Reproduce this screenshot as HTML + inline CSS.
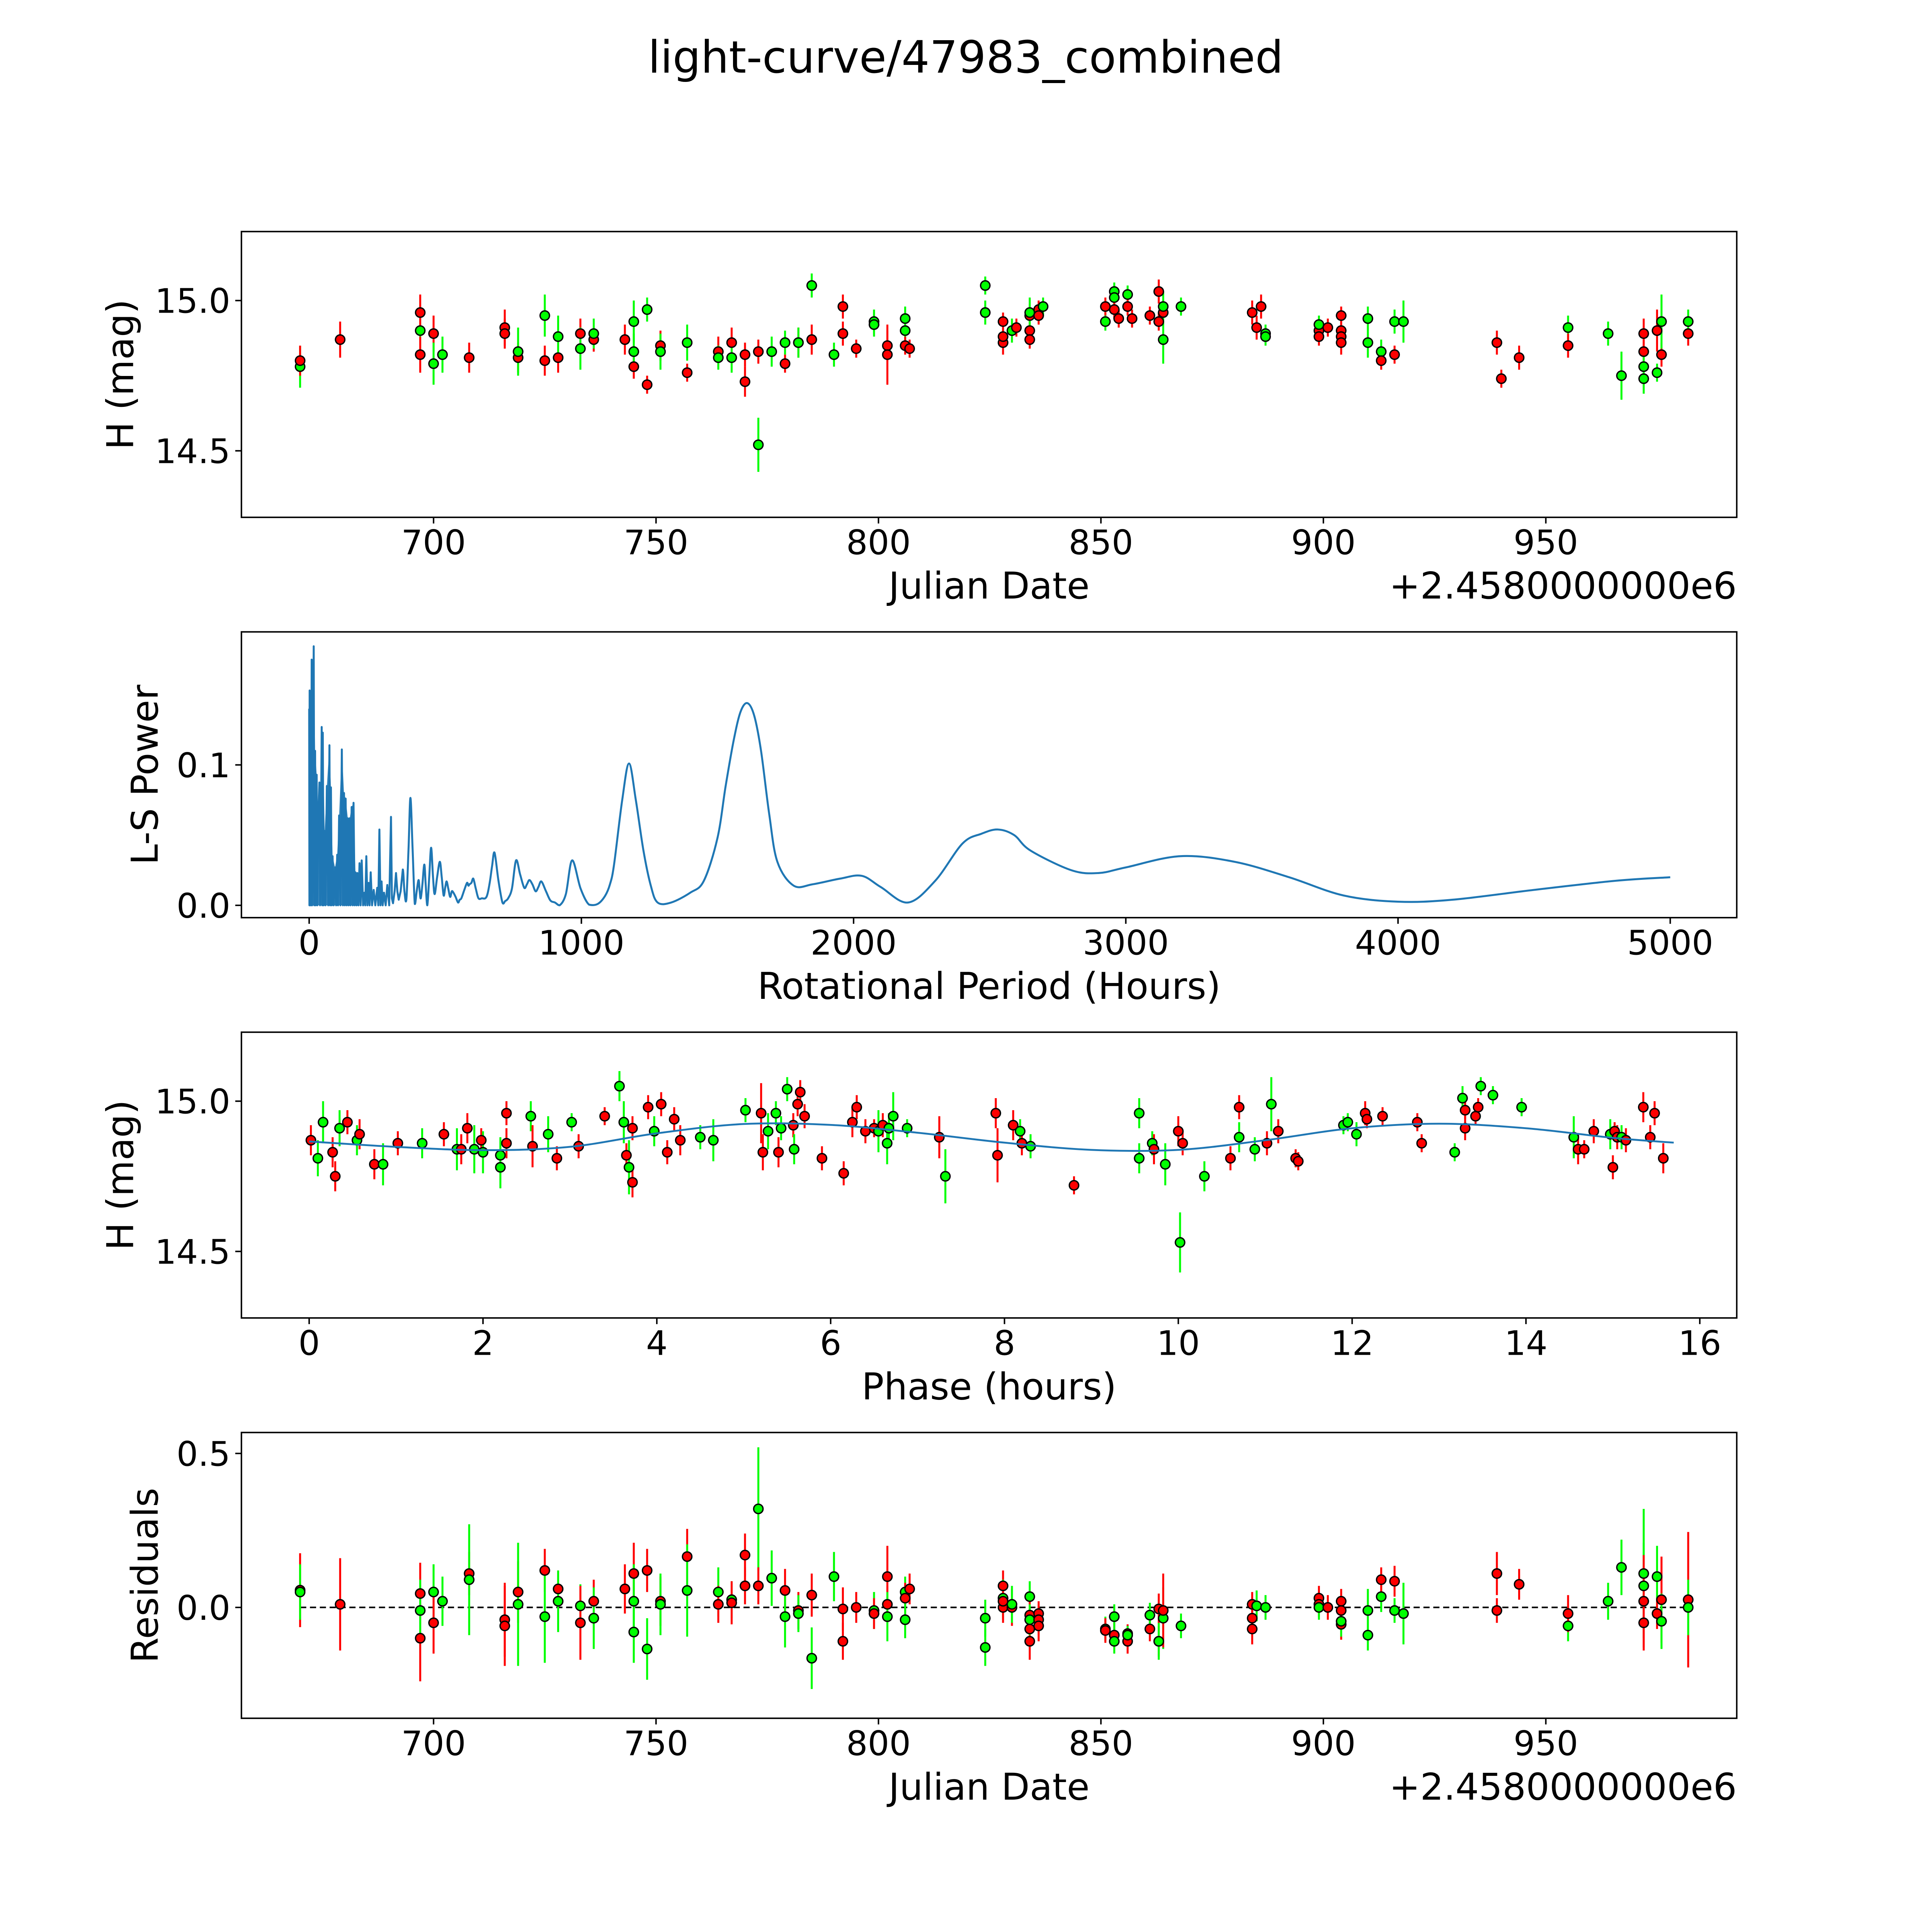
<!DOCTYPE html>
<html><head><meta charset="utf-8"><style>
html,body{margin:0;padding:0;background:#fff;overflow:hidden;width:5400px;height:5400px}
svg{display:block}
text{font-family:"DejaVu Sans","Liberation Sans",sans-serif;fill:#000}
</style></head><body>
<svg id="fig" width="5400" height="5400" viewBox="0 0 1694 1694" preserveAspectRatio="xMinYMin meet" xmlns="http://www.w3.org/2000/svg">
<rect x="0" y="0" width="1694" height="1694" fill="#fff"/>
<text x="784" y="59" font-size="36" text-anchor="middle">light-curve/47983_combined</text>
</svg>
<script>
// ---- Panel 1: light curve (Julian Date) ----
const lcJD=[670,670,679,697,697,697,700,700,702,708,716,716,719,719,725,725,728,728,733,733,736,736,743,745,745,745,748,748,751,751,757,757,764,764,767,767,770,770,773,773,776,779,779,782,782,785,785,790,792,792,795,799,799,802,802,806,806,806,807,824,824,828,828,828,830,831,834,834,834,834,836,836,837,851,851,853,853,853,854,856,856,857,861,863,863,864,864,864,868,884,885,886,887,887,899,899,899,901,904,904,904,904,910,910,913,913,916,916,918,939,940,944,955,955,964,967,972,972,972,972,975,975,976,976,982,982];
const lcMag=[14.78,14.80,14.87,14.90,14.96,14.82,14.89,14.79,14.82,14.81,14.91,14.89,14.81,14.83,14.95,14.80,14.81,14.88,14.89,14.84,14.87,14.89,14.87,14.93,14.78,14.83,14.97,14.72,14.85,14.83,14.86,14.76,14.83,14.81,14.86,14.81,14.73,14.82,14.52,14.83,14.83,14.86,14.79,14.86,14.86,15.05,14.87,14.82,14.98,14.89,14.84,14.93,14.92,14.85,14.82,14.94,14.90,14.85,14.84,15.05,14.96,14.93,14.86,14.88,14.90,14.91,14.95,14.90,14.87,14.96,14.97,14.95,14.98,14.93,14.98,15.03,15.01,14.97,14.94,15.02,14.98,14.94,14.95,15.03,14.93,14.96,14.98,14.87,14.98,14.96,14.91,14.98,14.89,14.88,14.90,14.88,14.92,14.91,14.95,14.90,14.88,14.86,14.94,14.86,14.83,14.80,14.82,14.93,14.93,14.86,14.74,14.81,14.91,14.85,14.89,14.75,14.83,14.78,14.74,14.89,14.76,14.90,14.82,14.93,14.89,14.93];
const lcErr=[0.07,0.05,0.06,0.06,0.06,0.06,0.06,0.07,0.06,0.05,0.06,0.05,0.05,0.08,0.07,0.05,0.05,0.07,0.05,0.07,0.04,0.05,0.05,0.07,0.04,0.06,0.04,0.03,0.05,0.06,0.06,0.03,0.05,0.04,0.05,0.05,0.05,0.04,0.09,0.04,0.05,0.04,0.03,0.05,0.05,0.04,0.05,0.04,0.04,0.04,0.03,0.04,0.04,0.05,0.10,0.04,0.04,0.03,0.03,0.03,0.04,0.03,0.04,0.03,0.04,0.03,0.04,0.04,0.03,0.05,0.03,0.03,0.03,0.03,0.03,0.03,0.03,0.03,0.03,0.03,0.03,0.03,0.03,0.04,0.03,0.04,0.05,0.08,0.03,0.04,0.04,0.04,0.03,0.03,0.03,0.03,0.03,0.03,0.03,0.03,0.03,0.04,0.04,0.05,0.04,0.03,0.03,0.04,0.07,0.04,0.03,0.04,0.04,0.04,0.04,0.08,0.05,0.04,0.05,0.05,0.03,0.07,0.04,0.09,0.04,0.04];
const lcBand=['g','r','r','g','r','r','r','g','g','r','r','r','r','g','g','r','r','g','r','g','r','g','r','g','r','g','g','r','r','g','g','r','r','g','r','g','r','r','g','r','g','g','r','r','g','g','r','g','r','r','r','g','g','r','r','g','g','r','r','g','g','r','r','r','g','r','r','r','r','g','r','r','g','g','r','g','g','r','r','g','r','r','r','r','r','r','g','g','g','r','r','r','g','g','r','r','g','r','r','r','r','r','g','g','g','r','r','g','g','r','r','r','g','r','g','g','r','g','g','r','g','r','r','g','r','g'];
const jdTicks=[700,750,800,850,900,950];

// ---- Panel 2: Lomb-Scargle periodogram ----
const lsPeriod=[0,1,1.7,3,5,7,9.2,11,14,16.7,19,21.8,24,27.6,30,33,37.7,40,43,46,48,50,53,57,60,65,70,74.5,77,80,83,86,90,95,99,103,106,110,115,120,124,128,131,134,138,142,145,149,152,156,160,163,167,170,174,177,181,185,189,193,198,203,206,210,214,218,222,226,231,237,243,250,254,258,262,266,270,275,281,287,294,300.6,304,308,314,319,324,329,336,344,350,357,365,372,380,388,395,402,406,410,416,423,428,434,441,448,455,461,470,480,487,494,500,505,511,518,524,530,538,547,553,559,570,580,585,589,596,603,612,622,635,647,655,664,672,681,695,710,720,731,745,760,775,790,800,809,820,832,842,853,870,886,903,920,943,966,997,1028,1060,1087,1105,1120,1150,1175,1200,1228,1255,1280,1330,1400,1450,1500,1530,1560,1585,1610,1635,1660,1690,1720,1780,1850,1950,2030,2100,2200,2300,2400,2470,2530,2590,2650,2800,2900,3000,3200,3400,3600,3800,4000,4200,4500,4800,5000];
const lsPower=[0.14,0,0.153,0,0.12,0,0.175,0,0.05,0.1845,0,0.110,0,0.093,0,0.06,0.0875,0,0.04,0.127,0,0.123,0,0.053,0,0.085,0,0.114,0,0.084,0,0.035,0,0.027,0,0.036,0,0.064,0,0.111,0,0.080,0,0.076,0,0.062,0,0.062,0,0.070,0,0.073,0,0.0235,0,0.023,0,0.030,0,0.032,0,0.009,0,0.035,0,0.016,0,0.0235,0,0.011,0,0.0125,0,0.054,0,0.017,0,0.009,0,0.0145,0,0.063,0.005,0.0015,0.01,0.023,0.01,0.004,0.01,0.0255,0.01,0.004,0.04,0.0765,0.04,0.001,0.01,0.018,0.01,0.005,0.015,0.029,0.015,0,0.02,0.041,0.02,0.008,0.02,0.031,0.02,0.007,0.013,0.017,0.012,0.006,0.01,0.009,0.006,0.002,0.004,0.005,0.011,0.016,0.014,0.015,0.016,0.019,0.012,0.005,0.005,0.005,0.008,0.017,0.028,0.0375,0.018,0.002,0.003,0.005,0.012,0.032,0.022,0.0125,0.015,0.018,0.015,0.010,0.013,0.017,0.010,0.0035,0.002,0,0.008,0.032,0.012,0.0005,0.001,0.0067,0.015,0.029,0.075,0.101,0.075,0.039,0.014,0.002,0.002,0.009,0.0175,0.048,0.085,0.118,0.138,0.144,0.135,0.110,0.065,0.031,0.014,0.015,0.019,0.021,0.013,0.002,0.0175,0.044,0.051,0.054,0.050,0.039,0.025,0.023,0.027,0.035,0.031,0.020,0.007,0.0026,0.004,0.011,0.0175,0.020];
const lsTicks=[0,1000,2000,3000,4000,5000];
const lsYTicks=[0.0,0.1];

// ---- Panel 3: phase folded ----
const phPhase=[0.02,0.1,0.16,0.27,0.3,0.35,0.44,0.55,0.58,0.75,0.85,1.02,1.3,1.55,1.7,1.75,1.82,1.9,1.98,2.0,2.2,2.2,2.27,2.27,2.55,2.57,2.75,2.85,3.02,3.1,3.4,3.57,3.62,3.65,3.68,3.72,3.72,3.9,3.97,4.05,4.12,4.2,4.27,4.5,4.65,5.02,5.2,5.22,5.28,5.37,5.4,5.43,5.5,5.57,5.58,5.62,5.65,5.7,5.9,6.15,6.25,6.3,6.4,6.5,6.55,6.6,6.65,6.72,6.67,6.88,7.25,7.32,7.9,7.92,8.1,8.18,8.3,8.2,8.8,9.55,9.55,9.7,9.72,9.85,10.0,10.02,10.05,10.3,10.6,10.7,10.7,10.88,11.02,11.07,11.15,11.35,11.38,11.9,11.95,12.05,12.15,12.17,12.35,12.75,12.8,13.18,13.27,13.3,13.3,13.42,13.45,13.48,13.62,13.95,14.55,14.6,14.67,14.78,14.97,15.0,15.02,15.05,15.1,15.15,15.35,15.43,15.48,15.58];
const phMag=[14.87,14.81,14.93,14.83,14.75,14.91,14.93,14.87,14.89,14.79,14.79,14.86,14.86,14.89,14.84,14.84,14.91,14.84,14.87,14.83,14.82,14.78,14.86,14.96,14.95,14.85,14.89,14.81,14.93,14.85,14.95,15.05,14.93,14.82,14.78,14.73,14.91,14.98,14.90,14.99,14.83,14.94,14.87,14.88,14.87,14.97,14.96,14.83,14.90,14.96,14.83,14.91,15.04,14.92,14.84,14.99,15.03,14.95,14.81,14.76,14.93,14.98,14.90,14.91,14.90,14.92,14.86,14.95,14.91,14.91,14.88,14.75,14.96,14.82,14.92,14.90,14.85,14.86,14.72,14.96,14.81,14.86,14.84,14.79,14.90,14.53,14.86,14.75,14.81,14.98,14.88,14.84,14.86,14.99,14.90,14.81,14.80,14.92,14.93,14.89,14.96,14.94,14.95,14.93,14.86,14.83,15.01,14.91,14.97,14.95,14.98,15.05,15.02,14.98,14.88,14.84,14.84,14.90,14.89,14.78,14.90,14.88,14.88,14.87,14.98,14.88,14.96,14.81];
const phErr=[0.05,0.06,0.07,0.05,0.05,0.06,0.04,0.05,0.05,0.05,0.07,0.04,0.05,0.04,0.07,0.05,0.05,0.08,0.04,0.07,0.06,0.07,0.05,0.04,0.05,0.07,0.06,0.04,0.03,0.04,0.03,0.05,0.07,0.04,0.09,0.05,0.04,0.04,0.05,0.04,0.04,0.04,0.05,0.04,0.07,0.04,0.10,0.06,0.06,0.04,0.05,0.04,0.04,0.04,0.05,0.04,0.04,0.04,0.04,0.04,0.05,0.04,0.04,0.03,0.07,0.04,0.07,0.08,0.05,0.03,0.07,0.09,0.05,0.09,0.05,0.04,0.04,0.04,0.03,0.05,0.05,0.04,0.05,0.07,0.05,0.10,0.04,0.05,0.04,0.04,0.05,0.04,0.04,0.09,0.04,0.03,0.03,0.03,0.03,0.04,0.04,0.03,0.03,0.03,0.03,0.03,0.04,0.04,0.03,0.03,0.03,0.03,0.03,0.03,0.07,0.05,0.03,0.04,0.05,0.04,0.03,0.04,0.04,0.04,0.05,0.04,0.04,0.05];
const phBand=['r','g','g','r','r','g','r','g','r','r','g','r','g','r','g','r','r','g','r','g','g','g','r','r','g','r','g','r','g','r','r','g','g','r','g','r','r','r','g','r','r','r','r','g','g','g','r','r','g','g','r','g','g','r','g','r','r','r','r','r','r','r','r','r','g','r','g','g','g','g','r','g','r','r','r','g','g','r','r','g','g','g','r','g','r','g','r','g','r','r','g','g','r','g','r','r','r','g','g','g','r','r','r','r','r','g','g','r','r','r','r','g','g','g','g','r','r','r','g','r','r','r','g','r','r','r','r','r'];
const modelPhase=[0,1,2,3,4,5,6,7,8,9,10,11,12,13,14,15,15.7];
const modelMag=[14.866,14.848,14.837,14.848,14.893,14.924,14.921,14.895,14.862,14.838,14.838,14.87,14.91,14.925,14.91,14.878,14.862];
const phTicks=[0,2,4,6,8,10,12,14,16];
const magTicks=[14.5,15.0];

// ---- Panel 4: residuals ----
const resJD=[670,670,679,697,697,697,700,700,702,708,708,716,716,719,719,725,725,728,728,733,733,736,736,743,745,745,745,748,748,751,751,757,757,764,764,767,767,770,770,773,773,776,779,779,782,782,785,785,790,792,792,795,799,799,802,802,802,806,806,806,807,824,824,828,828,828,828,830,830,834,834,834,834,834,836,836,836,851,851,853,853,853,856,856,856,861,861,863,863,863,864,864,868,884,884,884,885,887,899,899,899,901,904,904,904,904,910,910,913,913,916,916,918,939,939,944,955,955,964,967,972,972,972,972,975,975,976,976,982,982];
const resVal=[0.056,0.05,0.01,0.045,-0.10,-0.01,0.05,-0.05,0.02,0.11,0.09,-0.04,-0.06,0.05,0.01,0.12,-0.03,0.06,0.02,0.005,-0.05,0.02,-0.035,0.06,0.11,0.02,-0.08,0.12,-0.135,0.02,0.01,0.165,0.055,0.05,0.01,0.025,0.015,0.17,0.07,0.32,0.07,0.095,0.055,-0.03,-0.01,-0.02,0.04,-0.165,0.10,-0.005,-0.11,0.0,-0.01,-0.02,0.10,0.01,-0.03,0.05,0.03,-0.04,0.06,-0.035,-0.13,0.07,0.0,0.03,0.02,0.0,0.01,0.035,-0.025,-0.07,-0.11,-0.04,-0.02,-0.04,-0.06,-0.07,-0.075,-0.09,-0.11,-0.03,-0.11,-0.085,-0.09,-0.07,-0.025,-0.005,-0.11,-0.11,-0.035,-0.01,-0.06,-0.035,0.01,-0.07,0.005,0.0,0.03,0.01,0.0,0.0,0.02,-0.055,-0.045,-0.01,-0.01,-0.09,0.035,0.09,0.085,-0.01,-0.02,0.11,-0.01,0.075,-0.06,-0.02,0.02,0.13,0.11,0.07,0.02,-0.05,0.10,-0.02,0.025,-0.045,0.025,0.0];
const resErr=[0.12,0.09,0.15,0.1,0.14,0.1,0.09,0.1,0.08,0.07,0.18,0.12,0.13,0.1,0.2,0.07,0.15,0.06,0.1,0.07,0.12,0.07,0.1,0.08,0.1,0.12,0.1,0.07,0.1,0.08,0.1,0.09,0.15,0.08,0.06,0.06,0.07,0.07,0.06,0.2,0.06,0.09,0.07,0.1,0.06,0.06,0.07,0.1,0.08,0.07,0.06,0.05,0.06,0.05,0.1,0.06,0.08,0.05,0.05,0.06,0.05,0.06,0.06,0.05,0.05,0.06,0.06,0.06,0.06,0.05,0.06,0.06,0.06,0.05,0.04,0.05,0.05,0.04,0.04,0.04,0.04,0.04,0.04,0.03,0.03,0.04,0.04,0.05,0.05,0.06,0.1,0.12,0.04,0.05,0.04,0.05,0.05,0.04,0.04,0.04,0.04,0.04,0.04,0.05,0.05,0.04,0.07,0.05,0.05,0.04,0.05,0.04,0.1,0.07,0.04,0.05,0.05,0.06,0.06,0.09,0.21,0.14,0.15,0.09,0.1,0.05,0.14,0.09,0.22,0.09,0.1];
const resBand=['r','g','r','r','r','g','g','r','g','r','g','r','r','r','g','r','g','r','g','g','r','r','g','r','r','g','g','r','g','r','g','r','g','g','r','g','r','r','r','g','r','g','r','g','r','g','r','g','g','r','r','r','g','r','r','r','g','g','r','g','r','g','g','r','r','g','r','r','g','g','r','r','r','g','r','r','r','g','r','r','g','g','r','r','g','r','g','r','r','g','g','r','g','r','r','r','g','g','r','r','g','r','r','r','g','r','g','g','g','r','r','g','g','r','r','r','g','r','g','g','g','g','r','r','g','r','r','g','r','g'];
const resTicks=[0.0,0.5];

const NS='http://www.w3.org/2000/svg';
const fig=document.getElementById('fig');
function mk(tag,attrs,parent){const e=document.createElementNS(NS,tag);for(const k in attrs)e.setAttribute(k,attrs[k]);(parent||fig).appendChild(e);return e;}
function lin(d0,d1,r0,r1){return v=>r0+(v-d0)/(d1-d0)*(r1-r0);}
const L=196,R=1410;
const COL={r:'#ff0000',g:'#00ff00'};
const TICKFS=27.5, LABFS=30;

function axesBox(top,bot,name){
  const g=mk('g',{});
  
  
  const r=mk('rect',{x:L,y:top,width:R-L,height:bot-top,fill:'none',stroke:'#000','stroke-width':1.2},g);
  
  
  return g;
}
function xTicks(g,ticks,sx,bot,fmt,name){
  ticks.forEach(t=>{const x=sx(t);
    const l=mk('line',{x1:x,x2:x,y1:bot,y2:bot+5,stroke:'#000','stroke-width':1.2},g);
    
    
    const tx=mk('text',{x:x,y:bot+30,'font-size':TICKFS,'text-anchor':'middle'},g);
    tx.textContent=fmt(t);
    
    
  });
}
function yTicks(g,ticks,sy,fmt,name){
  ticks.forEach(t=>{const y=sy(t);
    const l=mk('line',{x1:L-5,x2:L,y1:y,y2:y,stroke:'#000','stroke-width':1.2},g);
    
    
    const tx=mk('text',{x:L-9,y:y+10,'font-size':TICKFS,'text-anchor':'end'},g);
    tx.textContent=fmt(t);
    
    
  });
}
function label(g,txt,x,y,rot,name){
  const a={x:x,y:y,'font-size':LABFS,'text-anchor':'middle'};
  if(rot)a.transform='rotate(-90 '+x+' '+y+')';
  const t=mk('text',a,g);t.textContent=txt;
  
  
}
function errPoints(g,xs,ys,es,bands,sx,sy,name){
  const eg=mk('g',{},g);const pg=mk('g',{},g);
  xs.forEach((xv,i)=>{const x=sx(xv);
    const l=mk('line',{x1:x,x2:x,y1:sy(ys[i]-es[i]),y2:sy(ys[i]+es[i]),stroke:COL[bands[i]],'stroke-width':1.6},eg);
    
    
    const c=mk('circle',{cx:x,cy:sy(ys[i]),r:3.8,fill:COL[bands[i]],stroke:'#000','stroke-width':1.1},pg);
    
    
  });
}
const f1=v=>v.toFixed(1);

// Panel 1
(function(){const top=188,bot=420;
  const sx=lin(700,950,352,1255), sy=lin(15.0,14.5,244,366);
  const g=axesBox(top,bot,'light-curve-axes');
  errPoints(g,lcJD,lcMag,lcErr,lcBand,sx,sy,'light-curve');
  xTicks(g,jdTicks,sx,bot,String,'jd-x-axis');
  yTicks(g,magTicks,sy,f1,'mag-y-axis');
  label(g,'Julian Date',803,486,false,'x-axis-title');
  const o=mk('text',{x:R,y:486,'font-size':LABFS,'text-anchor':'end'},g);o.textContent='+2.4580000000e6';
  
  
  label(g,'H (mag)',108,304,true,'y-axis-title');
})();
// Panel 2
(function(){const top=513,bot=745;
  const sx=lin(0,5000,251,1356), sy=lin(0,0.1,735,621);
  const g=axesBox(top,bot,'periodogram-axes');
  const P=lsPeriod.map((p,i)=>[sx(p),sy(lsPower[i])]);
  const dense=P.filter((q,i)=>lsPeriod[i]<=170);
  const env=[];dense.forEach((q,i)=>{if(lsPower[i]>0)env.push(q);});
  let fd='M'+dense[0][0].toFixed(2)+' '+sy(0).toFixed(2);
  env.forEach(q=>{fd+=' L'+q[0].toFixed(2)+' '+q[1].toFixed(2);});
  fd+=' L'+dense[dense.length-1][0].toFixed(2)+' '+sy(0).toFixed(2)+' Z';
  const fa=mk('path',{d:fd,fill:'#1f77b4',opacity:0.85},g);
  
  
  let d='M'+P[0][0].toFixed(2)+' '+P[0][1].toFixed(2);
  for(let i=1;i<P.length;i++){
    if(lsPeriod[i]<350){d+=' L'+P[i][0].toFixed(2)+' '+P[i][1].toFixed(2);continue;}
    const p0=P[i-2]||P[i-1],p1=P[i-1],p2=P[i],p3=P[i+1]||P[i];
    const c1x=p1[0]+(p2[0]-p0[0])/6,c1y=p1[1]+(p2[1]-p0[1])/6;
    const c2x=p2[0]-(p3[0]-p1[0])/6,c2y=p2[1]-(p3[1]-p1[1])/6;
    d+=' C'+c1x.toFixed(2)+' '+Math.min(c1y,sy(0)).toFixed(2)+' '+c2x.toFixed(2)+' '+Math.min(c2y,sy(0)).toFixed(2)+' '+p2[0].toFixed(2)+' '+p2[1].toFixed(2);
  }
  const p=mk('path',{d:d,fill:'none',stroke:'#1f77b4','stroke-width':1.6,'stroke-linejoin':'round'},g);
  
  
  xTicks(g,lsTicks,sx,bot,String,'period-x-axis');
  yTicks(g,lsYTicks,sy,f1,'power-y-axis');
  label(g,'Rotational Period (Hours)',803,811,false,'x-axis-title');
  label(g,'L-S Power',128,629,true,'y-axis-title');
})();
// Panel 3
(function(){const top=838,bot=1070;
  const sx=lin(0,16,251,1380), sy=lin(15.0,14.5,894,1016);
  const g=axesBox(top,bot,'phase-axes');
  errPoints(g,phPhase,phMag,phErr,phBand,sx,sy,'phase');
  const P=modelPhase.map((p,i)=>[sx(p),sy(modelMag[i])]);
  let d='M'+P[0][0].toFixed(2)+' '+P[0][1].toFixed(2);
  for(let i=1;i<P.length;i++){
    const p0=P[i-2]||P[i-1],p1=P[i-1],p2=P[i],p3=P[i+1]||P[i];
    d+=' C'+(p1[0]+(p2[0]-p0[0])/6).toFixed(2)+' '+(p1[1]+(p2[1]-p0[1])/6).toFixed(2)+' '+(p2[0]-(p3[0]-p1[0])/6).toFixed(2)+' '+(p2[1]-(p3[1]-p1[1])/6).toFixed(2)+' '+p2[0].toFixed(2)+' '+p2[1].toFixed(2);
  }
  const p=mk('path',{d:d,fill:'none',stroke:'#1f77b4','stroke-width':1.5},g);
  
  
  xTicks(g,phTicks,sx,bot,String,'phase-x-axis');
  yTicks(g,magTicks,sy,f1,'mag-y-axis');
  label(g,'Phase (hours)',803,1136,false,'x-axis-title');
  label(g,'H (mag)',108,954,true,'y-axis-title');
})();
// Panel 4
(function(){const top=1163,bot=1395;
  const sx=lin(700,950,352,1255), sy=lin(0,0.5,1305,1180);
  const g=axesBox(top,bot,'residuals-axes');
  const z=mk('line',{x1:sx(670),x2:sx(982),y1:sy(0),y2:sy(0),stroke:'#000','stroke-width':1.3,'stroke-dasharray':'5,3'},g);
  
  
  errPoints(g,resJD,resVal,resErr,resBand,sx,sy,'residual');
  xTicks(g,jdTicks,sx,bot,String,'jd-x-axis');
  yTicks(g,resTicks,sy,f1,'residual-y-axis');
  label(g,'Julian Date',803,1461,false,'x-axis-title');
  const o=mk('text',{x:R,y:1461,'font-size':LABFS,'text-anchor':'end'},g);o.textContent='+2.4580000000e6';
  
  
  label(g,'Residuals',128,1279,true,'y-axis-title');
})();
</script>
</body></html>
